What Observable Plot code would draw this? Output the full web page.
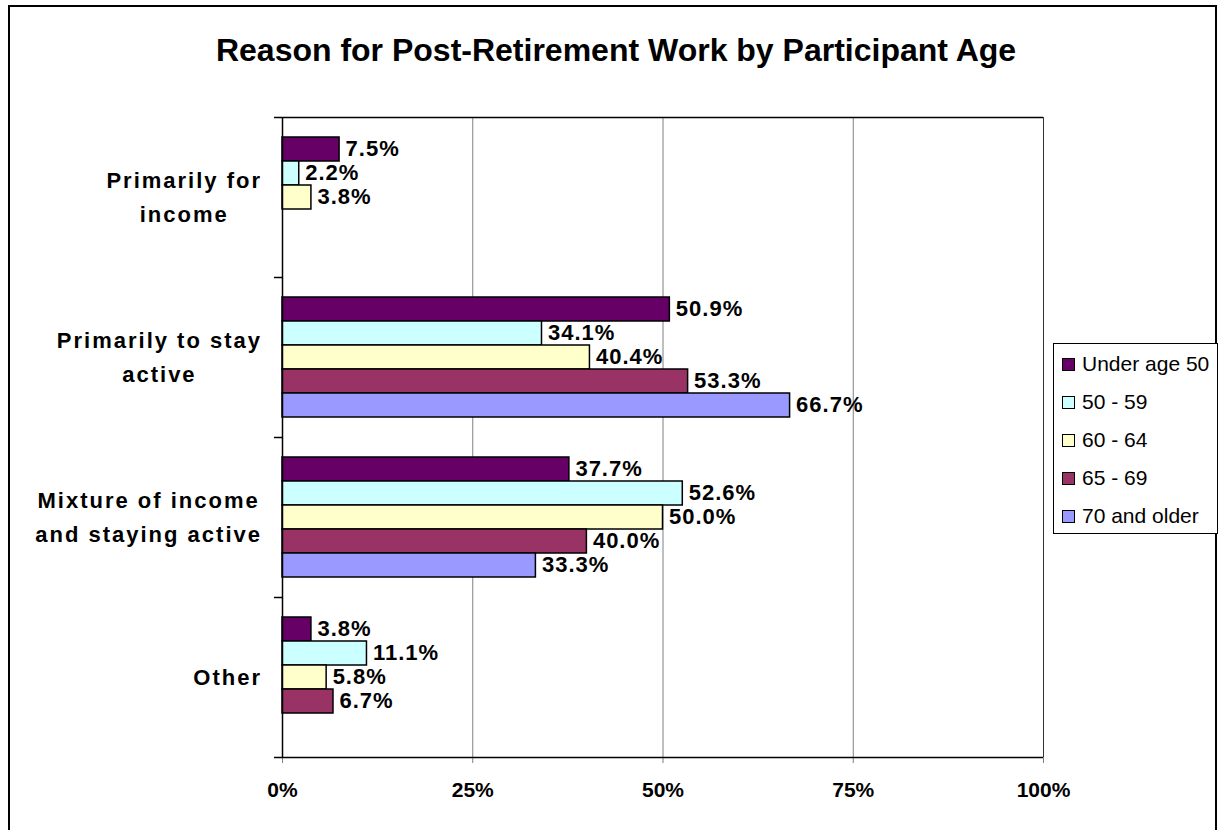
<!DOCTYPE html>
<html>
<head>
<meta charset="utf-8">
<script src="https://cdn.jsdelivr.net/npm/d3@7"></script>
<script src="https://cdn.jsdelivr.net/npm/@observablehq/plot@0.6"></script>
<style>
  html, body { margin: 0; padding: 0; background: #fff; }
  #wrap { position: relative; width: 1224px; height: 830px; overflow: hidden; font-family: "Liberation Sans", Arial, sans-serif; }
  #border { position: absolute; left: 8px; top: 5px; width: 1209px; height: 1000px; border: 2px solid #000; box-sizing: border-box; }
  #title { position: absolute; left: 0; top: 34px; width: 1232px; text-align: center; font-size: 32px; line-height: 32px; font-weight: bold; color: #000; white-space: nowrap; }
  #chart { position: absolute; left: 0; top: 0; }
  #legend { position: absolute; left: 1053px; top: 343px; width: 165px; height: 191px; border: 1px solid #000; box-sizing: border-box; background: #fff; }
  .item { position: absolute; left: 0; height: 24px; }
  .sw { position: absolute; left: 8px; width: 13px; height: 13px; border: 1px solid #000; box-sizing: border-box; }
  .lt { position: absolute; left: 28px; font-size: 21px; line-height: 21px; white-space: nowrap; color: #000; }
</style>
</head>
<body>
<div id="wrap">
  <div id="border"></div>
  <div id="title">Reason for Post-Retirement Work by Participant Age</div>
  <div id="chart"></div>
  <div id="legend"></div>
</div>
<script>
// ---- data ----
const categories = ["Primarily for income", "Primarily to stay active", "Mixture of income and staying active", "Other"];
const categoryLabels = ["Primarily for\nincome", "Primarily to stay\nactive", "Mixture of income\nand staying active", "Other"];
const ages = ["Under age 50", "50 - 59", "60 - 64", "65 - 69", "70 and older"];
const under50 = [7.5, 50.9, 37.7, 3.8];
const age50to59 = [2.2, 34.1, 52.6, 11.1];
const age60to64 = [3.8, 40.4, 50.0, 5.8];
const age65to69 = [null, 53.3, 40.0, 6.7];
const age70plus = [null, 66.7, 33.3, null];
const colors = ["#660066", "#CCFFFF", "#FFFFCC", "#993366", "#9999FF"];
const xTicks = [0, 25, 50, 75, 100];

const series = [under50, age50to59, age60to64, age65to69, age70plus];
const rows = [];
series.forEach((vals, i) => {
  vals.forEach((v, j) => {
    if (v != null) rows.push({category: categories[j], age: ages[i], value: v});
  });
});
const labelOf = new Map(categories.map((c, i) => [c, categoryLabels[i]]));
const fmtValue = v => v.toFixed(1) + "%";

const W = 1224, H = 830;
const plot = Plot.plot({
  width: W,
  height: H,
  marginLeft: 282,
  marginRight: 181,
  marginTop: 117,
  marginBottom: 73,
  style: {fontFamily: '"Liberation Sans", Arial, sans-serif', background: "transparent", color: "#000"},
  x: {domain: [0, 100]},
  y: {domain: ages, paddingInner: 0, paddingOuter: 0.726, axis: null},
  fy: {domain: categories, padding: 0, axis: null},
  color: {domain: ages, range: colors},
  marks: [
    Plot.gridX({ticks: xTicks.slice(1, -1), stroke: "#808080", strokeOpacity: 1, strokeWidth: 1}),
    Plot.ruleX([xTicks[xTicks.length - 1]], {stroke: "#333", strokeWidth: 1}),
    Plot.barX(rows, {x: "value", y: "age", fy: "category", fill: "age", stroke: "#000", strokeWidth: 1.5}),
    Plot.ruleX([0], {stroke: "#000", strokeWidth: 1.5}),
    Plot.text(rows, {
      x: "value", y: "age", fy: "category",
      text: d => fmtValue(d.value),
      textAnchor: "start", dx: 6, dy: -1, fontSize: 22, fontWeight: "bold", fill: "#000"
    }),
    Plot.text(categories, {
      fy: d => d, frameAnchor: "left", text: d => labelOf.get(d),
      textAnchor: "middle", dx: -110, dy: -3, fontSize: 22, fontWeight: "bold", lineHeight: 1.55, fill: "#000"
    }),
    Plot.axisX({
      ticks: xTicks, tickFormat: d => d + "%", tickSize: 6, tickPadding: 19,
      fontSize: 21, fontWeight: "bold", stroke: "#808080", label: null, fill: "#000"
    })
  ]
});

document.getElementById("chart").appendChild(plot);

// ---- post-process: category boundary ticks, top/bottom plot-area lines ----
const svgNode = plot.tagName.toLowerCase() === "svg" ? plot : plot.querySelector("svg");
const svg = d3.select(svgNode);
const fyS = plot.scale("fy");
const xS = plot.scale("x");
const bandScale = d3.scaleBand().domain(fyS.domain).range(fyS.range)
  .paddingInner(fyS.paddingInner || 0).paddingOuter(fyS.paddingOuter || 0).align(fyS.align ?? 0.5);
const bounds = [];
fyS.domain.forEach((c, i) => {
  const y0 = bandScale(c);
  if (i === 0) bounds.push(y0);
  bounds.push(y0 + bandScale.bandwidth());
});
const x0 = xS.apply(0), x1 = xS.apply(100);
const g = svg.append("g").attr("aria-label", "frame-lines");
bounds.forEach((y, i) => {
  const full = i === 0 || i === bounds.length - 1;
  g.append("line")
    .attr("x1", x0 - 8).attr("x2", full ? x1 : x0)
    .attr("y1", Math.round(y) + 0.5).attr("y2", Math.round(y) + 0.5)
    .attr("stroke", "#000").attr("stroke-width", 1.5);
});

// letter spacing + right-aligned block for category labels
const catTexts = new Set(categoryLabels.map(s => s.replace(/\n/g, "")));
const valTexts = new Set(rows.map(d => fmtValue(d.value)));
svg.selectAll("text").each(function() {
  const t = this.textContent;
  if (catTexts.has(t)) {
    this.style.letterSpacing = "2px";
    this.setAttribute("data-role", "cat");
  } else if (valTexts.has(t)) {
    this.style.letterSpacing = "1px";
  }
});
const svgRect = svgNode.getBoundingClientRect();
svg.selectAll('text[data-role="cat"]').each(function() {
  const r = this.getBoundingClientRect();
  const right = r.right - svgRect.left;
  const shift = 262 - right;
  const old = this.getAttribute("transform") || "";
  this.setAttribute("transform", (old + " translate(" + shift + ",0)").trim());
});

// ---- legend ----
const legend = d3.select("#legend");
ages.forEach((a, i) => {
  const it = legend.append("div").attr("class", "item").style("top", (14 + i * 38) + "px").style("width", "160px");
  it.append("div").attr("class", "sw").style("background", colors[i]).style("top", "0px");
  it.append("div").attr("class", "lt").style("top", "-5px").text(a);
});
</script>
</body>
</html>
